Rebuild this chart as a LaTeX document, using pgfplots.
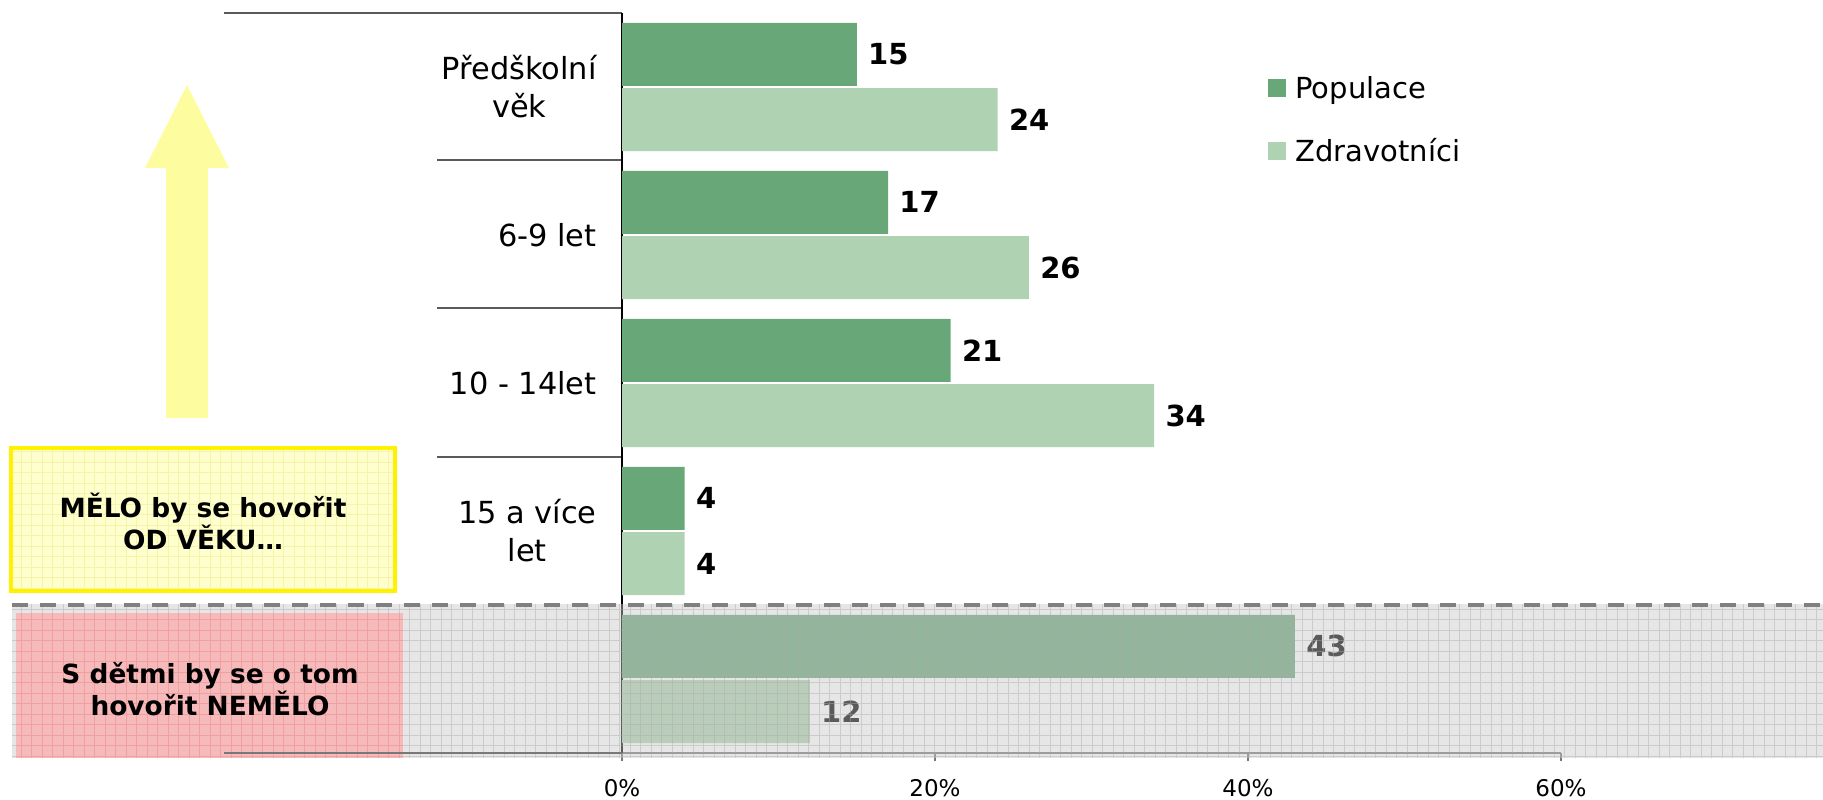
\documentclass[border=0pt]{standalone}
\usepackage{fontspec}
\setmainfont{DejaVu Sans}
\usepackage{pgfplots}
\pgfplotsset{compat=1.18}
\definecolor{popul}{RGB}{103,167,120}
\definecolor{zdrav}{RGB}{175,210,178}
\definecolor{arrowy}{RGB}{253,253,160}
\definecolor{boxy}{RGB}{255,255,205}
\definecolor{boxline}{RGB}{245,245,170}
\definecolor{pinkbox}{RGB}{247,186,186}
\definecolor{pinkline}{RGB}{240,160,160}
\definecolor{sepgray}{RGB}{90,90,90}
\definecolor{ovgray}{RGB}{200,200,200}
\definecolor{ovline}{RGB}{170,170,170}
\definecolor{dashgray}{RGB}{128,128,128}
\definecolor{axgray}{RGB}{120,120,120}

\begin{document}
\begin{tikzpicture}
\useasboundingbox (0,0) rectangle (911.5pt,399.5pt);
\begin{scope}[x=0.5pt,y=-0.5pt,yshift=399.5pt]
 % arrow
 \fill[arrowy] (187,85) -- (229,168) -- (208,168) -- (208,418) -- (166,418) -- (166,168) -- (145,168) -- cycle;
 % yellow box
 \fill[boxy] (9,446) rectangle (397,593);
 \begin{scope}
  \clip (9,446) rectangle (397,593);
  \draw[boxline, line width=0.4pt, step=5.25pt] (9,446) grid (397,593);
 \end{scope}
 \draw[yellow, line width=2pt] (11,448) rectangle (395,591);
 \node[align=center, font=\bfseries\fontsize{13.2}{16}\selectfont] at (203,521) {MĚLO by se hovořit\\OD VĚKU…};
 % category separators
 \draw[sepgray, line width=1pt] (224,13) -- (622,13);
 \foreach \yy in {160,308,457} \draw[sepgray,line width=1pt] (437,\yy) -- (622,\yy);
\end{scope}

\begin{axis}[
  at={(311pt,23pt)}, anchor=south west,
  scale only axis, width=469.5pt, height=370pt,
  xmin=0, xmax=60, ymin=-0.5, ymax=4.5,
  enlargelimits=false, clip=false,
  axis lines*=left,
  x axis line style={draw=axgray, line width=1.25pt},
  y axis line style={draw=black, line width=0.75pt},
  xtick={0,20,40,60}, xticklabels={0\%,20\%,40\%,60\%},
  xtick style={draw=axgray, line width=0.75pt},
  tick align=outside, major tick length=4pt,
  xticklabel style={font=\fontsize{11.5}{13}\selectfont, inner sep=0pt, yshift=-9pt},
  ytick={1,2,3,4},
  yticklabels={{15 a více\\let},{10 - 14let},{6-9 let},{Předškolní\\věk}},
  ytick style={draw=none},
  yticklabel style={font=\fontsize{15.2}{19}\selectfont, align=center, inner sep=0pt, xshift=-8.5pt},
  /pgf/number format/assume math mode=true,
  legend style={at={(axis cs:41.28,4.0676)}, anchor=north west, draw=none, fill=none,
    inner sep=0pt, font=\fontsize{14.5}{17}\selectfont, row sep=18pt, column sep=4.5pt,
    nodes={inner sep=0pt, text height=10.5pt, text depth=3pt}},
  legend cell align=left,
]
\addplot[xbar, bar width=0.425, bar shift=0.22, fill=popul, draw=none, point meta=x,
  nodes near coords,
  nodes near coords style={font=\bfseries\fontsize{14.5}{17}\selectfont, anchor=west, inner sep=0pt, xshift=5.5pt, yshift=16.3pt, text=black},
  legend image code/.code={\fill[popul] (0pt,-3pt) rectangle (9pt,6pt);}]
  coordinates {(15,4) (17,3) (21,2) (4,1) (43,0)};
\addlegendentry{Populace}
\addplot[xbar, bar width=0.425, bar shift=-0.22, fill=zdrav, draw=none, point meta=x,
  nodes near coords,
  nodes near coords style={font=\bfseries\fontsize{14.5}{17}\selectfont, anchor=west, inner sep=0pt, xshift=5.5pt, yshift=-16.3pt, text=black},
  legend image code/.code={\fill[zdrav] (0pt,-3pt) rectangle (9pt,6pt);}]
  coordinates {(24,4) (26,3) (34,2) (4,1) (12,0)};
\addlegendentry{Zdravotníci}
\end{axis}

\begin{scope}[x=0.5pt,y=-0.5pt,yshift=399.5pt]
 % grey overlay
 \fill[ovgray, opacity=0.45] (12,604) rectangle (1823,758);
 \begin{scope}
  \clip (12,604) rectangle (1823,758);
  \draw[ovline, opacity=0.45, line width=0.4pt, step=5.25pt] (12,604) grid (1823,758);
 \end{scope}
 % pink box
 \fill[pinkbox] (16,613) rectangle (403,758);
 \begin{scope}
  \clip (16,613) rectangle (403,758);
  \draw[pinkline, line width=0.4pt, step=5.25pt] (16,613) grid (403,758);
 \end{scope}
 \node[align=center, font=\bfseries\fontsize{13.2}{15}\selectfont] at (210,689) {S dětmi by se o tom\\hovořit NEMĚLO};
 % dashed line
 \draw[dashgray, line width=2pt, dash pattern=on 8pt off 6pt] (12,605) -- (1823,605);
 % left extension of bottom line
 \draw[axgray, line width=1.25pt] (224,753) -- (622,753);
\end{scope}
\end{tikzpicture}
\end{document}
